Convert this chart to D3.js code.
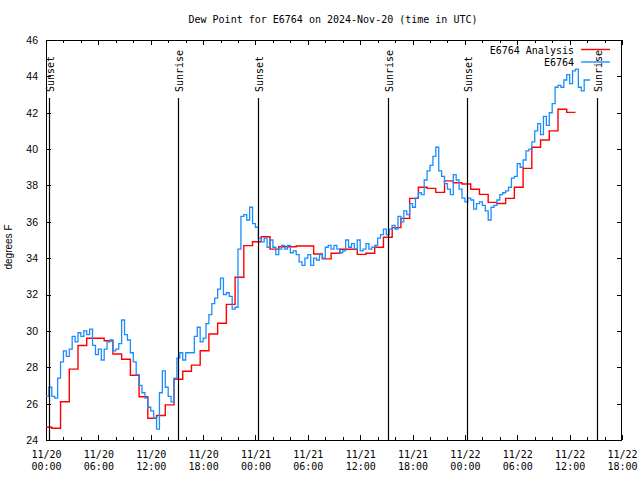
<!DOCTYPE html>
<html><head><meta charset="utf-8">
<script src="https://cdn.jsdelivr.net/npm/d3@7"></script>
<style>body{margin:0;background:#fff}svg{display:block}</style>
</head><body>
<svg id="chart" width="640" height="480"></svg>
<script>
// ---- data ----
const titleText = "Dew Point for E6764 on 2024-Nov-20 (time in UTC)";
const yLabel = "degrees F";
const yTicks = [24,26,28,30,32,34,36,38,40,42,44,46];
const seriesNames = ["E6764 Analysis", "E6764"];
// Analysis: hourly step values, first slot starting 2024-11-19 23:40 UTC
const redStartUTC = [2024,10,19,23,40];
const redValues = [24.7,24.65,26.1,27.9,29.2,29.6,29.6,29.46,28.73,28.44,
 27.56,26.38,25.2,25.35,25.93,27.34,27.78,28.12,28.91,29.83,
 30.42,31.46,32.95,34.69,34.9,35.18,34.5,34.63,34.63,34.67,
 34.67,34.23,33.96,34.27,34.49,34.49,34.21,34.27,34.6,35.15,
 35.68,36.19,37.29,37.9,37.84,37.62,38.25,38.15,38.08,37.79,
 37.51,37.07,37.01,37.29,37.9,38.94,40.1,40.5,41.0,42.19,42.02];
// Observations: every 20 minutes from 2024-11-20 00:00 UTC
const blueStartUTC = [2024,10,20,0,0];
const blueStepMinutes = 20;
const blueValues = [26.4,26.9,26.4,26.3,27.4,28.3,28.9,28.6,29.0,29.7,
 29.4,29.9,29.7,30.0,29.8,30.1,29.2,28.7,29.0,28.4,
 29.0,29.4,29.5,28.9,29.0,29.3,30.6,29.8,29.5,28.8,
 28.3,27.6,27.0,26.6,26.3,25.8,25.6,25.2,24.6,26.6,
 27.8,26.9,26.4,26.1,27.4,28.5,28.8,28.4,28.8,28.8,
 28.8,29.7,30.2,29.4,29.6,30.4,30.9,31.5,31.8,32.3,
 32.9,32.0,32.1,31.9,31.2,31.3,34.5,36.3,36.4,36.1,
 36.8,35.9,35.7,35.1,34.9,35.1,34.6,35.0,34.6,34.2,
 34.5,34.7,34.5,34.7,34.3,34.4,34.2,33.8,33.6,34.0,
 34.2,33.6,34.0,33.9,34.2,34.0,34.6,34.7,34.5,34.7,
 34.5,34.3,34.4,35.0,34.6,34.8,34.5,35.0,34.4,34.5,
 34.8,34.5,34.6,34.7,35.1,35.3,35.6,35.3,35.6,35.8,
 35.6,36.3,36.0,36.6,36.4,37.0,36.8,37.3,37.6,37.5,
 38.3,38.8,39.1,39.6,40.1,38.8,38.5,38.1,37.8,37.5,
 38.6,38.3,37.8,37.3,37.1,37.3,37.2,36.7,37.0,37.1,
 36.9,36.6,36.1,36.8,36.9,37.2,37.5,37.6,37.7,37.9,
 38.4,38.5,39.2,39.0,39.4,39.9,40.0,40.4,41.0,41.4,
 40.8,41.8,41.3,42.0,42.5,43.4,43.5,43.4,43.8,44.1,
 43.6,44.3,44.4,43.4,43.2,43.8,43.8,43.8];
const sunLabels = ["Sunset","Sunrise","Sunset","Sunrise","Sunset","Sunrise"];
const sunTimesUTC = ["2024-11-20T00:23Z","2024-11-20T15:10Z","2024-11-21T00:20Z",
                     "2024-11-21T15:13Z","2024-11-22T00:17Z","2024-11-22T15:10Z"];
const xDomainUTC = ["2024-11-20T00:00Z","2024-11-22T18:00Z"];

// ---- layout ----
const L = 46, R = 622, T = 40, B = 440;
const HOUR = 3600e3;
const svg = d3.select("#chart");
svg.append("rect").attr("width",640).attr("height",480).attr("fill","#fff");

const x = d3.scaleUtc().domain(xDomainUTC.map(s => new Date(s))).range([L, R]);
const y = d3.scaleLinear().domain([24, 46]).range([B, T]);

const mono = "'DejaVu Sans Mono', monospace";
const sans = "'Liberation Sans', Arial, sans-serif";

// clip
svg.append("clipPath").attr("id","plotclip").append("rect")
  .attr("x",L).attr("y",T).attr("width",R-L).attr("height",B-T);

// axes: major ticks every 6h, minor every 2h
const [d0, d1] = x.domain();
const majorT = d3.utcHour.every(6).range(d0, new Date(+d1 + 1));
const minorT = d3.utcHour.every(2).range(d0, new Date(+d1 + 1)).filter(d => d.getUTCHours() % 6 !== 0);
const fmtDate = d3.utcFormat("%m/%d"), fmtTime = d3.utcFormat("%H:%M");

function styleAxis(g){
  g.select(".domain").remove();
  g.selectAll(".tick line").attr("stroke","#000").attr("shape-rendering","crispEdges");
}
const gx = svg.append("g").attr("transform",`translate(0,${B})`)
  .call(d3.axisBottom(x).tickValues(majorT).tickSizeInner(-5).tickSizeOuter(0).tickFormat(() => ""));
styleAxis(gx);
gx.selectAll(".tick text").each(function(d){
  const t = d3.select(this).attr("y", 17.5).attr("dy", null)
    .attr("font-family", mono).attr("font-size", 10).attr("fill","#000");
  t.append("tspan").attr("x",0).attr("y",17.5).text(fmtDate(d));
  t.append("tspan").attr("x",0).attr("y",30).text(fmtTime(d));
});
styleAxis(svg.append("g").attr("transform",`translate(0,${B})`)
  .call(d3.axisBottom(x).tickValues(minorT).tickSizeInner(-3).tickSizeOuter(0).tickFormat(() => "")));
styleAxis(svg.append("g").attr("transform",`translate(0,${T})`)
  .call(d3.axisTop(x).tickValues(majorT).tickSizeInner(-5).tickSizeOuter(0).tickFormat(() => "")));
styleAxis(svg.append("g").attr("transform",`translate(0,${T})`)
  .call(d3.axisTop(x).tickValues(minorT).tickSizeInner(-3).tickSizeOuter(0).tickFormat(() => "")));

const gy = svg.append("g").attr("transform",`translate(${L},0)`)
  .call(d3.axisLeft(y).tickValues(yTicks).tickSizeInner(-5).tickSizeOuter(0).tickPadding(8));
styleAxis(gy);
gy.selectAll(".tick text").attr("font-family", sans).attr("font-size", 10.5).attr("fill","#000");
styleAxis(svg.append("g").attr("transform",`translate(${R},0)`)
  .call(d3.axisRight(y).tickValues(yTicks).tickSizeInner(-5).tickSizeOuter(0).tickFormat(() => "")));

// border
svg.append("rect").attr("x",L+0.5).attr("y",T+0.5).attr("width",R-L-1).attr("height",B-T)
  .attr("fill","none").attr("stroke","#000").attr("stroke-width",1).attr("shape-rendering","crispEdges");

// series
const redStart = Date.UTC(...redStartUTC);
const redData = redValues.map((v,k) => ({t: new Date(redStart + k*HOUR), v}));
redData.push({t: new Date(redStart + redValues.length*HOUR), v: redValues[redValues.length-1]});
const blueStart = Date.UTC(...blueStartUTC);
const blueData = blueValues.map((v,i) => ({t: new Date(blueStart + i*blueStepMinutes*60e3), v}));

const line = d3.line().x(d => x(d.t)).y(d => y(d.v)).curve(d3.curveStepAfter);
const plot = svg.append("g").attr("clip-path","url(#plotclip)");
plot.append("path").datum(redData).attr("d", line)
  .attr("fill","none").attr("stroke","#ff0000").attr("stroke-width",1.4);
plot.append("path").datum(blueData).attr("d", line)
  .attr("fill","none").attr("stroke","#1a8cff").attr("stroke-width",1.3);

// sun lines
sunTimesUTC.forEach((s,i) => {
  const xx = Math.round(x(new Date(s))) + 0.5;
  svg.append("line").attr("x1",xx).attr("x2",xx).attr("y1",98).attr("y2",B)
    .attr("stroke","#000").attr("stroke-width",1.2);
  svg.append("text").attr("transform",`translate(${xx+4},92) rotate(-90)`)
    .attr("font-family", mono).attr("font-size",10).attr("fill","#000")
    .attr("text-anchor","start").text(sunLabels[i]);
});

// legend
const legendColors = ["#ff0000","#1a8cff"];
seriesNames.forEach((n,i) => {
  const yy = 50 + i*12.5;
  svg.append("text").attr("x",574).attr("y",yy+3.5).attr("text-anchor","end")
    .attr("font-family", mono).attr("font-size",10).attr("fill","#000").text(n);
  svg.append("line").attr("x1",581).attr("x2",610).attr("y1",yy-0.5).attr("y2",yy-0.5)
    .attr("stroke",legendColors[i]).attr("stroke-width",1.4);
});

// title and y label
svg.append("text").attr("x",333).attr("y",23).attr("text-anchor","middle")
  .attr("font-family", mono).attr("font-size",10).attr("fill","#000").text(titleText);
svg.append("text").attr("transform",`translate(12,247) rotate(-90)`).attr("text-anchor","middle")
  .attr("font-family", sans).attr("font-size",10).attr("fill","#000").text(yLabel);
</script>
</body></html>
